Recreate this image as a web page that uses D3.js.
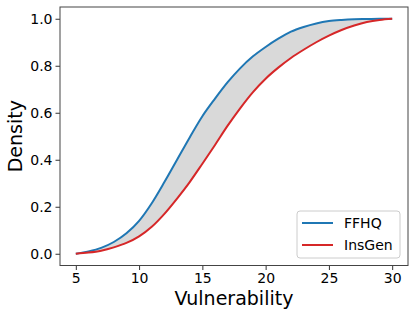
<!DOCTYPE html>
<html><head><meta charset="utf-8">
<script src="https://cdn.jsdelivr.net/npm/d3@7"></script>
<style>body{margin:0;background:#fff}svg{display:block;font-family:"DejaVu Sans",sans-serif}</style>
</head><body><svg id="c" width="415" height="317"></svg>
<script>
const xVals = [5,6,7,8,9,10,11,12,13,14,15,16,17,18,19,20,21,22,23,24,25,26,27,28,29,30];
const ffhq = [0,0.01,0.025,0.05,0.087,0.14,0.215,0.305,0.40,0.495,0.585,0.66,0.73,0.79,0.84,0.88,0.915,0.945,0.965,0.98,0.99,0.995,0.998,0.999,1.0,1.0];
const insgen = [0,0.005,0.013,0.027,0.046,0.074,0.115,0.17,0.235,0.305,0.383,0.463,0.545,0.62,0.688,0.745,0.792,0.833,0.868,0.90,0.928,0.952,0.971,0.986,0.995,1.0];
const xTicks = [5,10,15,20,25,30];
const yTicks = [0.0,0.2,0.4,0.6,0.8,1.0];
const seriesNames = ["FFHQ","InsGen"];
const colors = ["#1f77b4","#d62728"];

const svg = d3.select("#c");
const L=60,R=408,T=7,B=265.5;
const x = d3.scaleLinear().domain([3.75,31.25]).range([L,R]);
const y = d3.scaleLinear().domain([-0.05,1.05]).range([B,T]);

const pts = xVals.map((v,i)=>({v,a:ffhq[i],b:insgen[i]}));
const curve = d3.curveMonotoneX;
svg.append("path").datum(pts)
  .attr("d", d3.area().x(d=>x(d.v)).y0(d=>y(d.b)).y1(d=>y(d.a)).curve(curve))
  .attr("fill","#d9d9d9");
[ffhq,insgen].forEach((s,k)=>{
  svg.append("path").datum(xVals.map((v,i)=>[v,s[i]]))
    .attr("d", d3.line().x(d=>x(d[0])).y(d=>y(d[1])).curve(curve))
    .attr("fill","none").attr("stroke",colors[k]).attr("stroke-width",2);
});

const xa = svg.append("g").attr("transform",`translate(0,${B})`)
  .call(d3.axisBottom(x).tickValues(xTicks).tickFormat(d3.format("d")).tickSize(4.5).tickPadding(3));
const ya = svg.append("g").attr("transform",`translate(${L},0)`)
  .call(d3.axisLeft(y).tickValues(yTicks).tickFormat(d3.format(".1f")).tickSize(4.5).tickPadding(3));
[xa,ya].forEach(a=>{
  a.select(".domain").remove();
  a.selectAll("text").attr("font-size",14).attr("fill","#000").attr("font-family","DejaVu Sans");
  a.selectAll("line").attr("stroke","#333");
});
svg.append("rect").attr("x",L).attr("y",T).attr("width",R-L).attr("height",B-T)
  .attr("fill","none").attr("stroke","#444").attr("stroke-width",1);

svg.append("text").attr("x",(L+R)/2).attr("y",305).attr("text-anchor","middle")
  .attr("font-size",19).text("Vulnerability");
svg.append("text").attr("transform",`translate(22,${(T+B)/2}) rotate(-90)`).attr("text-anchor","middle")
  .attr("font-size",19).text("Density");

const lg = svg.append("g");
lg.append("rect").attr("x",297).attr("y",211).attr("width",103).attr("height",47).attr("rx",3)
  .attr("fill","#fff").attr("fill-opacity",0.8).attr("stroke","#ccc");
seriesNames.forEach((n,k)=>{
  const yy = 223 + k*22;
  lg.append("line").attr("x1",302).attr("x2",333).attr("y1",yy).attr("y2",yy)
    .attr("stroke",colors[k]).attr("stroke-width",2);
  lg.append("text").attr("x",344).attr("y",yy+5).attr("font-size",14).text(n);
});
</script></body></html>
